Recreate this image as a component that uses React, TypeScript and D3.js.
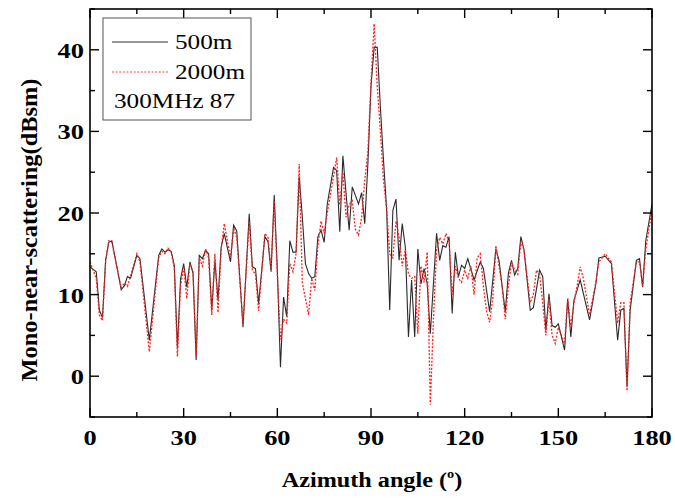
import React from "react";
import * as d3 from "d3";

// ---- data ----
const angle500 = [0,2,3,4,5,6,7,10,11,12,13,15,16,19,22,23,24,25,26,27,28,29,30,31,32,33,34,35,36,37,38,39,40,41,42,43,45,46,47,49,51,52,53,54,56,57,58,59,60,61,62,63,64,65,66,67,68,69,70,71,72,73,74,75,76,78,79,80,81,83,84,86,87,88,89,90,91,92,93,94,95,96,97,98,99,100,101,102,103,104,105,106,107,108,109,111,112,113,114,115,116,117,118,119,120,121,123,125,126,128,130,131,133,134,135,136,137,138,139,141,142,144,145,146,147,148,149,150,152,153,154,155,157,160,162,163,165,167,169,170,171,172,173,175,176,177,178,180];
const value500 = [13.4,12.8,8.1,7.2,14.2,16.4,16.6,10.6,11.1,12.2,12.0,14.8,14.4,4.4,14.8,15.6,15.2,15.5,15.3,13.6,3.5,11.9,13.8,10.9,14.0,12.6,2.0,14.8,14.4,15.4,15.0,8.1,14.2,9.3,15.8,17.5,14.0,18.5,17.8,6.0,19.9,13.4,13.2,8.9,17.1,16.5,12.8,22.2,13.0,1.1,9.7,7.3,16.6,15.2,15.2,24.5,19.5,13.8,12.6,12.0,12.2,17.1,17.9,16.4,21.1,25.6,25.2,17.7,27.0,17.9,23.2,21.1,22.5,18.7,26.0,35.5,40.3,40.3,33.0,26.5,20.5,8.1,20.3,21.7,14.2,18.7,15.8,4.8,11.8,4.8,15.6,11.3,13.2,11.3,5.2,17.5,14.2,16.0,15.8,17.1,7.7,15.2,12.2,13.6,13.2,14.4,11.8,14.0,13.2,7.9,15.6,14.2,7.9,12.6,14.2,12.4,13.2,17.1,15.5,8.1,8.4,13.0,12.2,5.6,10.1,6.2,6.0,6.4,3.2,9.5,4.8,9.3,11.8,6.9,11.3,14.5,14.7,13.8,4.4,8.1,8.3,-1.3,8.1,14.2,14.4,10.9,16.6,21.1];

const angle2000 = [0,1,2,3,4,5,6,7,10,11,12,13,15,16,19,22,23,24,25,26,27,28,29,30,31,32,33,34,35,36,37,38,39,40,41,42,43,45,46,47,49,51,52,53,54,56,57,58,59,60,61,62,63,64,65,66,67,68,69,70,71,72,73,74,75,76,78,79,80,81,82,83,84,85,86,87,88,89,90,91,92,93,94,95,96,97,98,99,100,101,102,103,104,105,106,107,108,109,110,111,112,113,114,115,116,117,118,119,120,121,122,123,124,125,126,127,128,129,130,131,132,133,134,135,136,137,138,139,141,142,143,144,145,146,147,148,149,150,151,152,153,154,155,156,157,158,160,162,163,165,167,169,170,171,172,173,175,176,177,178,180];
const value2000 = [14.0,13.0,12.0,7.5,6.8,14.0,16.6,16.4,10.8,11.4,11.0,12.3,15.0,14.0,3.0,14.5,15.3,15.0,15.7,15.2,13.2,2.4,11.0,13.5,9.5,13.8,12.8,2.5,14.5,13.5,15.6,14.5,7.5,15.0,7.8,15.5,18.7,14.5,18.2,17.0,6.5,19.0,13.0,12.5,8.0,17.5,17.0,13.2,21.5,12.5,4.5,7.0,6.5,13.8,12.8,15.0,26.0,11.5,9.5,7.5,12.0,10.5,16.0,19.0,17.5,20.0,24.5,26.8,21.0,25.0,19.5,21.0,21.5,18.0,17.3,19.5,24.0,27.5,36.0,43.2,35.5,30.0,24.0,20.5,15.0,14.5,19.0,17.0,13.5,15.5,12.5,12.0,12.2,5.2,13.5,11.5,15.2,-3.5,7.0,15.5,17.0,16.2,17.5,16.5,10.0,13.5,12.0,11.5,13.0,12.0,13.5,10.0,14.5,15.0,11.0,8.0,6.6,9.5,16.0,13.5,11.0,7.0,11.0,14.0,13.0,12.5,16.5,15.5,9.0,10.0,13.0,12.5,9.0,5.0,9.5,5.0,4.0,6.0,5.0,4.0,9.5,6.0,9.0,11.0,13.4,12.0,7.5,11.5,14.0,15.0,14.0,6.5,9.0,9.0,-1.8,9.0,14.0,14.0,11.0,15.5,20.5];

const xTicks = [0, 30, 60, 90, 120, 150, 180];
const xMinor = [15, 45, 75, 105, 135, 165];
const yTicks = [0, 10, 20, 30, 40];
const yMinor = [-5, 5, 15, 25, 35, 45];
const legendLabels = ["500m", "2000m"];
const noteText = "300MHz 87";

const FONT = "'Liberation Serif', 'Times New Roman', serif";

function SText({ x, y, s = 1.2, children, ...rest }: any) {
  return (
    <text transform={`translate(${x},${y}) scale(${s},1)`} fontFamily={FONT} {...rest}>
      {children}
    </text>
  );
}

export default function App() {
  const W = 675, H = 499;
  const L = 90, R = 652, T = 9, B = 417;
  const x = d3.scaleLinear().domain([0, 180]).range([L, R]);
  const y = d3.scaleLinear().domain([-5, 45]).range([B, T]);

  const line = d3.line<[number, number]>().x(d => x(d[0])).y(d => y(d[1]));
  const d500 = line(angle500.map((a, i) => [a, value500[i]]));
  const d2000 = line(angle2000.map((a, i) => [a, value2000[i]]));

  const MAJ = 9, MIN = 5;

  return (
    <svg width={W} height={H} style={{ position: "absolute", left: 0, top: 0, background: "#fff" }}>
      <defs>
        <clipPath id="pa">
          <rect x={L} y={T} width={R - L} height={B - T} />
        </clipPath>
      </defs>
      <rect width={W} height={H} fill="#fff" />
      <g clipPath="url(#pa)">
        <path d={d500 || ""} fill="none" stroke="#2a2a2a" strokeWidth={1.1} />
        <path d={d2000 || ""} fill="none" stroke="#ff2020" strokeWidth={1.3} strokeDasharray="2,1.6" />
      </g>
      {/* frame */}
      <rect x={L} y={T} width={R - L} height={B - T} fill="none" stroke="#000" strokeWidth={1.6} />
      {/* ticks */}
      <g stroke="#000" strokeWidth={1.4}>
        {xTicks.map(t => (
          <g key={"xt" + t}>
            <line x1={x(t)} x2={x(t)} y1={B} y2={B - MAJ} />
            <line x1={x(t)} x2={x(t)} y1={T} y2={T + MAJ} />
          </g>
        ))}
        {xMinor.map(t => (
          <g key={"xm" + t}>
            <line x1={x(t)} x2={x(t)} y1={B} y2={B - MIN} />
            <line x1={x(t)} x2={x(t)} y1={T} y2={T + MIN} />
          </g>
        ))}
        {yTicks.map(t => (
          <g key={"yt" + t}>
            <line x1={L} x2={L + MAJ} y1={y(t)} y2={y(t)} />
            <line x1={R} x2={R - MAJ} y1={y(t)} y2={y(t)} />
          </g>
        ))}
        {yMinor.map(t => (
          <g key={"ym" + t}>
            <line x1={L} x2={L + MIN} y1={y(t)} y2={y(t)} />
            <line x1={R} x2={R - MIN} y1={y(t)} y2={y(t)} />
          </g>
        ))}
      </g>
      {/* tick labels */}
      {xTicks.map(t => (
        <SText key={"xl" + t} x={x(t)} y={445} textAnchor="middle" fontSize={22} fontWeight="bold">
          {t}
        </SText>
      ))}
      {yTicks.map(t => (
        <SText key={"yl" + t} x={84} y={y(t) + 8} textAnchor="end" fontSize={22} fontWeight="bold">
          {t}
        </SText>
      ))}
      {/* axis titles */}
      <text
        transform={`translate(37,230) rotate(-90)`}
        textAnchor="middle"
        fontFamily={FONT}
        fontSize={23}
        fontWeight="bold"
        textLength={303}
        lengthAdjust="spacingAndGlyphs"
      >
        Mono-near-scattering(dBsm)
      </text>
      <SText x={372} y={487} s={1.1} textAnchor="middle" fontSize={22} fontWeight="bold">
        Azimuth angle (<tspan fontSize={13} dy={-9}>o</tspan><tspan dy={9}>)</tspan>
      </SText>
      {/* legend */}
      <rect x={103} y={18} width={148} height={102} fill="#fff" stroke="#555" strokeWidth={1} />
      <line x1={112} x2={168} y1={42} y2={42} stroke="#333" strokeWidth={1.2} />
      <line x1={112} x2={168} y1={72} y2={72} stroke="#ff4040" strokeWidth={1.2} strokeDasharray="2,1.6" />
      <SText x={175} y={49} fontSize={21}>{legendLabels[0]}</SText>
      <SText x={175} y={79} fontSize={21}>{legendLabels[1]}</SText>
      <SText x={114} y={108} fontSize={21}>{noteText}</SText>
    </svg>
  );
}
